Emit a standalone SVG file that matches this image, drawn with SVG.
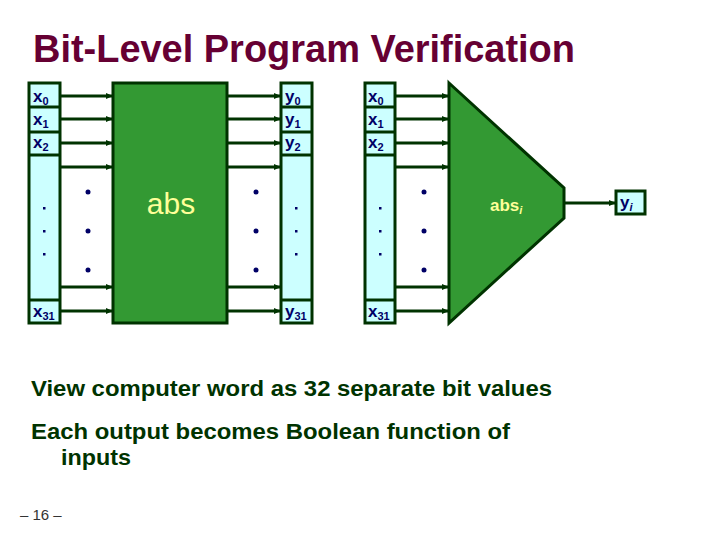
<svg xmlns="http://www.w3.org/2000/svg" width="719" height="539" viewBox="0 0 719 539">
<defs>
<marker id="ah" markerWidth="8" markerHeight="8" refX="7" refY="4" orient="auto" markerUnits="userSpaceOnUse">
<path d="M0,1 L7,4 L0,7 z" fill="#003300"/>
</marker>
<style>
.col{fill:#CCFFFF;stroke:#003300;stroke-width:3}
.blk{fill:#339933;stroke:#003300;stroke-width:3}
.lbl{font-family:"Liberation Sans",Arial,sans-serif;font-size:17px;font-weight:bold;fill:#000066}
.sub{font-size:11px}
.ar{stroke:#003300;stroke-width:3;fill:none;marker-end:url(#ah)}
.dot{fill:#000066}
.body{font-family:"Liberation Sans",Arial,sans-serif;font-size:22px;font-weight:bold;fill:#003300}
</style>
</defs>
<rect width="719" height="539" fill="#ffffff"/>
<text x="33" y="62" font-family="'Liberation Sans',Arial,sans-serif" font-size="38" font-weight="bold" fill="#660033" textLength="542" lengthAdjust="spacingAndGlyphs">Bit-Level Program Verification</text>

<g id="xcol1">
<rect class="col" x="29" y="83" width="31" height="240"/>
<line x1="29" y1="107" x2="60" y2="107" stroke="#003300" stroke-width="3"/>
<line x1="29" y1="132" x2="60" y2="132" stroke="#003300" stroke-width="3"/>
<line x1="29" y1="155" x2="60" y2="155" stroke="#003300" stroke-width="3"/>
<line x1="29" y1="300" x2="60" y2="300" stroke="#003300" stroke-width="3"/>
<text class="lbl" x="33" y="102">x<tspan class="sub" dy="3">0</tspan></text>
<text class="lbl" x="33" y="125">x<tspan class="sub" dy="3">1</tspan></text>
<text class="lbl" x="33" y="148">x<tspan class="sub" dy="3">2</tspan></text>
<text class="lbl" x="33" y="317">x<tspan class="sub" dy="3">31</tspan></text>
<rect class="dot" x="43" y="207" width="2.5" height="2.5"/>
<rect class="dot" x="43" y="230" width="2.5" height="2.5"/>
<rect class="dot" x="43" y="253" width="2.5" height="2.5"/>
</g>

<g id="abs">
<rect class="blk" x="113" y="83" width="114" height="240"/>
<text x="171" y="214" text-anchor="middle" font-family="'Liberation Sans',Arial,sans-serif" font-size="30" fill="#FFFF99">abs</text>
</g>

<g id="ycol">
<rect class="col" x="281" y="83" width="31" height="240"/>
<line x1="281" y1="107" x2="312" y2="107" stroke="#003300" stroke-width="3"/>
<line x1="281" y1="132" x2="312" y2="132" stroke="#003300" stroke-width="3"/>
<line x1="281" y1="155" x2="312" y2="155" stroke="#003300" stroke-width="3"/>
<line x1="281" y1="300" x2="312" y2="300" stroke="#003300" stroke-width="3"/>
<text class="lbl" x="285" y="102">y<tspan class="sub" dy="3">0</tspan></text>
<text class="lbl" x="285" y="125">y<tspan class="sub" dy="3">1</tspan></text>
<text class="lbl" x="285" y="148">y<tspan class="sub" dy="3">2</tspan></text>
<text class="lbl" x="285" y="317">y<tspan class="sub" dy="3">31</tspan></text>
<rect class="dot" x="295" y="207" width="2.5" height="2.5"/>
<rect class="dot" x="295" y="230" width="2.5" height="2.5"/>
<rect class="dot" x="295" y="253" width="2.5" height="2.5"/>
</g>

<g id="xcol2">
<rect class="col" x="365" y="83" width="30" height="240"/>
<line x1="365" y1="107" x2="395" y2="107" stroke="#003300" stroke-width="3"/>
<line x1="365" y1="132" x2="395" y2="132" stroke="#003300" stroke-width="3"/>
<line x1="365" y1="155" x2="395" y2="155" stroke="#003300" stroke-width="3"/>
<line x1="365" y1="300" x2="395" y2="300" stroke="#003300" stroke-width="3"/>
<text class="lbl" x="368" y="102">x<tspan class="sub" dy="3">0</tspan></text>
<text class="lbl" x="368" y="125">x<tspan class="sub" dy="3">1</tspan></text>
<text class="lbl" x="368" y="148">x<tspan class="sub" dy="3">2</tspan></text>
<text class="lbl" x="368" y="317">x<tspan class="sub" dy="3">31</tspan></text>
<rect class="dot" x="379" y="207" width="2.5" height="2.5"/>
<rect class="dot" x="379" y="230" width="2.5" height="2.5"/>
<rect class="dot" x="379" y="253" width="2.5" height="2.5"/>
</g>

<g id="absi">
<polygon class="blk" points="449,83 564,188 564,218 449,323"/>
<text x="490" y="211" font-family="'Liberation Sans',Arial,sans-serif" font-size="17" font-weight="bold" fill="#FFFF99">abs<tspan font-size="11" font-style="italic" dy="3">i</tspan></text>
</g>

<g id="yi">
<rect class="col" x="616" y="191" width="29" height="23"/>
<text class="lbl" x="620" y="208">y<tspan class="sub" font-style="italic" dy="3">i</tspan></text>
</g>

<g id="connectors">
<line class="ar" x1="60" y1="96" x2="113" y2="96"/>
<line class="ar" x1="60" y1="119" x2="113" y2="119"/>
<line class="ar" x1="60" y1="143" x2="113" y2="143"/>
<line class="ar" x1="60" y1="167" x2="113" y2="167"/>
<line class="ar" x1="60" y1="287" x2="113" y2="287"/>
<line class="ar" x1="60" y1="311" x2="113" y2="311"/>
<line class="ar" x1="227" y1="96" x2="281" y2="96"/>
<line class="ar" x1="227" y1="119" x2="281" y2="119"/>
<line class="ar" x1="227" y1="143" x2="281" y2="143"/>
<line class="ar" x1="227" y1="167" x2="281" y2="167"/>
<line class="ar" x1="227" y1="287" x2="281" y2="287"/>
<line class="ar" x1="227" y1="311" x2="281" y2="311"/>
<line class="ar" x1="395" y1="96" x2="449" y2="96"/>
<line class="ar" x1="395" y1="119" x2="449" y2="119"/>
<line class="ar" x1="395" y1="143" x2="449" y2="143"/>
<line class="ar" x1="395" y1="167" x2="449" y2="167"/>
<line class="ar" x1="395" y1="287" x2="449" y2="287"/>
<line class="ar" x1="395" y1="311" x2="449" y2="311"/>
<line class="ar" x1="564" y1="203" x2="616" y2="203"/>
<circle class="dot" cx="88" cy="192" r="2.5"/>
<circle class="dot" cx="88" cy="231" r="2.5"/>
<circle class="dot" cx="88" cy="270" r="2.5"/>
<circle class="dot" cx="256" cy="192" r="2.5"/>
<circle class="dot" cx="256" cy="231" r="2.5"/>
<circle class="dot" cx="256" cy="270" r="2.5"/>
<circle class="dot" cx="424" cy="192" r="2.5"/>
<circle class="dot" cx="424" cy="231" r="2.5"/>
<circle class="dot" cx="424" cy="270" r="2.5"/>
</g>

<text class="body" x="31" y="396" textLength="521" lengthAdjust="spacingAndGlyphs">View computer word as 32 separate bit values</text>
<text class="body" x="31" y="439" textLength="479" lengthAdjust="spacingAndGlyphs">Each output becomes Boolean function of</text>
<text class="body" x="61" y="465" textLength="70" lengthAdjust="spacingAndGlyphs">inputs</text>
<text x="20" y="520" font-family="'Liberation Sans',Arial,sans-serif" font-size="15" fill="#333333">– 16 –</text>
</svg>
